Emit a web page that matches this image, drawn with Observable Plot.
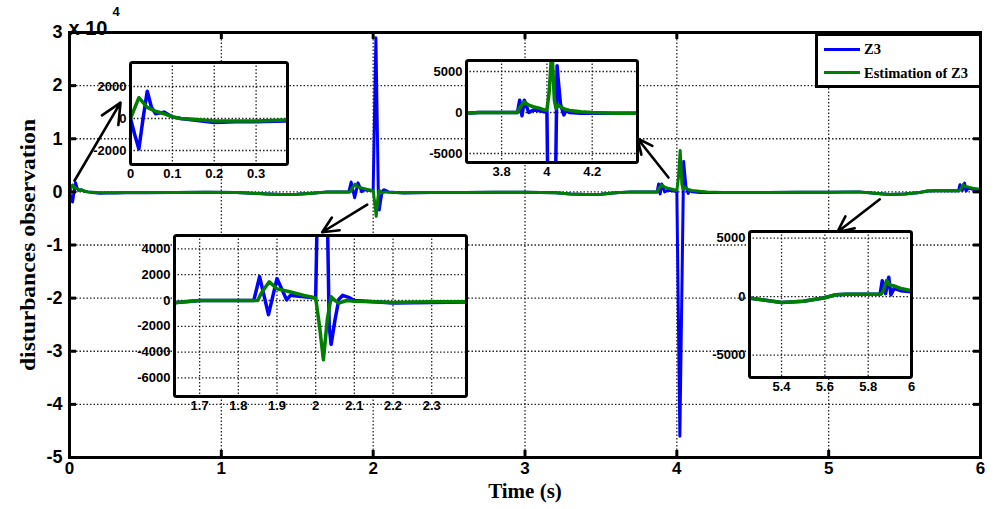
<!DOCTYPE html>
<html><head><meta charset="utf-8">
<script src="https://cdn.jsdelivr.net/npm/d3@7"></script>
<script src="https://cdn.jsdelivr.net/npm/@observablehq/plot@0.6"></script>
<style>
body{margin:0;background:#fff;}
#wrap{position:relative;width:1008px;height:509px;overflow:hidden;background:#fff;}
#wrap svg{position:absolute;}
#legend{position:absolute;left:815px;top:33px;width:161px;height:49px;border:3px solid #000;background:#fff;
  font-family:'Liberation Serif','Times New Roman',serif;font-weight:bold;font-size:14.5px;line-height:1;}
#legend .sw{position:absolute;left:6px;width:36px;height:3px;}
#legend .lb{position:absolute;left:46px;white-space:nowrap;}
</style></head><body><div id="wrap"><div id="legend"></div></div>
<script>
// ---------- data ----------
const seriesNames = ["Z3", "Estimation of Z3"];
const seriesColors = ["#0000ff", "#008000"];

const timeZ3 = [0,0.01,0.02,0.03,0.04,0.05,0.06,0.08,0.1,0.12,
  0.15,0.2,0.25,0.3,0.37,0.5,0.7,0.9,1.1,1.3,
  1.4,1.5,1.6,1.7,1.84,1.855,1.878,1.9,1.925,1.935,
  1.95,1.97,2.0,2.018,2.035,2.04,2.05,2.06,2.07,2.085,
  2.1,2.15,2.2,2.3,2.4,2.6,2.8,3.0,3.2,3.3,
  3.4,3.5,3.6,3.7,3.87,3.88,3.89,3.9,3.92,3.94,
  3.97,3.99,4.0,4.02,4.045,4.05,4.06,4.075,4.085,4.1,
  4.15,4.2,4.3,4.4,4.6,4.8,5.0,5.2,5.3,5.4,
  5.5,5.6,5.65,5.7,5.8,5.855,5.865,5.88,5.895,5.905,
  5.92,5.95,6.0];
const valueZ3 = [0,-1000,-1900,0,1700,700,300,400,100,0,
  -100,-250,-200,-200,-150,-150,-100,-50,-100,-400,
  -500,-450,-250,0,0,1850,-1100,1700,50,400,
  350,300,200,29000,-2000,-3400,-1500,100,400,250,
  0,-100,-200,-150,-100,-100,-50,-50,-150,-400,
  -500,-450,-150,0,0,1500,-400,1500,0,300,
  200,100,200,-46000,5700,4000,1000,-300,300,0,
  -100,-100,-100,-100,-100,-50,-50,0,-250,-500,
  -400,-100,150,200,200,200,1350,250,1650,150,
  700,500,400];

const timeEst = [0,0.02,0.04,0.06,0.08,0.1,0.12,0.15,0.2,0.25,
  0.3,0.37,0.5,0.7,0.9,1.1,1.3,1.4,1.5,1.6,
  1.7,1.85,1.86,1.88,1.9,1.93,1.97,2.0,2.01,2.02,
  2.03,2.04,2.05,2.06,2.08,2.1,2.15,2.2,2.3,2.4,
  2.6,2.8,3.0,3.2,3.3,3.4,3.5,3.6,3.7,3.87,
  3.88,3.9,3.92,3.94,3.97,3.99,4.0,4.01,4.022,4.033,
  4.04,4.05,4.06,4.08,4.1,4.15,4.2,4.3,4.4,4.6,
  4.8,5.0,5.2,5.3,5.4,5.5,5.6,5.65,5.7,5.8,
  5.86,5.87,5.885,5.9,5.92,5.95,6.0];
const valueEst = [0,1300,700,450,300,100,0,-50,-150,-150,
  -150,-100,-100,-100,-50,-100,-400,-500,-450,-250,
  0,0,600,1450,900,700,400,200,-2000,-4600,
  -1500,300,0,-200,0,-50,-100,-150,-100,-100,
  -100,-50,-50,-150,-400,-500,-450,-150,0,0,
  600,1300,900,700,500,300,300,2500,7800,1500,
  500,900,700,400,250,100,0,-100,-100,-100,
  -50,-50,0,-250,-500,-400,-100,150,200,200,
  200,500,1370,1000,900,700,500];

const mainXTicks = [0,1,2,3,4,5,6];
const mainYTicks = [-50000,-40000,-30000,-20000,-10000,0,10000,20000,30000];

// inset settings: tick labels
const insetAx = [0,0.1,0.2,0.3],        insetAy = [-2000,0,2000];
const insetBx = [1.7,1.8,1.9,2,2.1,2.2,2.3], insetBy = [-6000,-4000,-2000,0,2000,4000];
const insetCx = [3.8,4,4.2],            insetCy = [-5000,0,5000];
const insetDx = [5.4,5.6,5.8,6],        insetDy = [-5000,0,5000];

// annotation arrows (main-chart data units): tail -> head
const arrows = [
  {x1:0.033, y1:2100,  x2:0.336, y2:16800},
  {x1:1.961, y1:-2400, x2:1.664, y2:-7600},
  {x1:3.945, y1:2700,  x2:3.741, y2:10050},
  {x1:5.337, y1:-1400, x2:5.056, y2:-7600}
];

// ---------- build tables ----------
const z3 = timeZ3.map((t,i)=>({t, v:valueZ3[i]}));
const est = timeEst.map((t,i)=>({t, v:valueEst[i]}));

const SANS = "'Liberation Sans', Arial, sans-serif";
const SERIF = "'Liberation Serif','Times New Roman',serif";
const wrap = document.getElementById("wrap");
const gridStyle = {stroke:"#000", strokeOpacity:0.85, strokeWidth:1.3, strokeDasharray:"1.5,2"};

// ---------- main chart ----------
const F = {left:69, right:980, top:32, bottom:457};
const fw = F.right-F.left, fh = F.bottom-F.top;
const main = Plot.plot({
  width:1008, height:509,
  marginLeft:F.left, marginRight:1008-F.right, marginTop:F.top, marginBottom:509-F.bottom,
  style:{background:"white", fontFamily:SANS, fontWeight:"bold", color:"black"},
  x:{domain:[0,6]},
  y:{domain:[-50000,30000]},
  marks:[
    Plot.gridX(mainXTicks, gridStyle),
    Plot.gridY(mainYTicks, gridStyle),
    Plot.line(z3, {x:"t", y:"v", stroke:seriesColors[0], strokeWidth:3, clip:true}),
    Plot.line(est, {x:"t", y:"v", stroke:seriesColors[1], strokeWidth:3, clip:true}),
    Plot.tickX(mainXTicks, {x:d=>d, insetTop:fh-7, stroke:"#000", strokeWidth:3}),
    Plot.tickX(mainXTicks, {x:d=>d, insetBottom:fh-7, stroke:"#000", strokeWidth:3}),
    Plot.tickY(mainYTicks, {y:d=>d, insetRight:fw-7, stroke:"#000", strokeWidth:3}),
    Plot.tickY(mainYTicks, {y:d=>d, insetLeft:fw-7, stroke:"#000", strokeWidth:3}),
    Plot.frame({stroke:"#000", strokeWidth:3}),
    Plot.axisX(mainXTicks, {tickSize:0, tickPadding:4, fontSize:17, fontWeight:"bold", fontFamily:SANS, tickFormat:d=>String(d), label:null}),
    Plot.axisY(mainYTicks, {tickSize:0, tickPadding:7, fontSize:18, fontWeight:"bold", fontFamily:SANS, tickFormat:d=>String(d/1e4), label:null}),
    Plot.text(["Time (s)"], {text:d=>d, frameAnchor:"bottom", dy:40, fontFamily:SERIF, fontSize:21, fontWeight:"bold"}),
    Plot.text(["disturbances observation"], {text:d=>d, frameAnchor:"left", textAnchor:"middle", dx:-42, rotate:-90, fontFamily:SERIF, fontSize:22, fontWeight:"bold"}),
    Plot.text(["x 10"], {text:d=>d, frameAnchor:"top-left", textAnchor:"start", dx:-1, dy:-12, fontFamily:SANS, fontSize:20, fontWeight:"bold"}),
    Plot.text(["4"], {text:d=>d, frameAnchor:"top-left", textAnchor:"start", dx:43, dy:-26, fontFamily:SANS, fontSize:13, fontWeight:"bold"}),
    Plot.arrow(arrows, {x1:"x1", y1:"y1", x2:"x2", y2:"y2", stroke:"#000", strokeWidth:2.6, headLength:13, headAngle:50, bend:0})
  ]
});
main.style.left = "0px"; main.style.top = "0px";
wrap.insertBefore(main, wrap.firstChild);
// stretch the rotated axis title to the reference's length
d3.select(main).selectAll("text")
  .filter(function(){ return this.textContent === "disturbances observation"; })
  .attr("textLength", 252).attr("lengthAdjust", "spacingAndGlyphs");

// ---------- insets ----------
function inset(cfg){
  const ml=48, mr=3, mt=3, mb=24;
  const w = cfg.right-cfg.left, h = cfg.bottom-cfg.top;
  const svg = Plot.plot({
    width:w+ml+mr, height:h+mt+mb,
    marginLeft:ml, marginRight:mr, marginTop:mt, marginBottom:mb,
    style:{background:"transparent", fontFamily:SANS, fontWeight:"bold", color:"black", overflow:"visible"},
    x:{domain:cfg.xDomain}, y:{domain:cfg.yDomain},
    marks:[
      Plot.frame({fill:"white"}),
      Plot.gridX(cfg.xTicks, gridStyle),
      Plot.gridY(cfg.yTicks, gridStyle),
      Plot.line(z3, {x:"t", y:"v", stroke:seriesColors[0], strokeWidth:3.5, clip:true}),
      Plot.line(est, {x:"t", y:"v", stroke:seriesColors[1], strokeWidth:3.5, clip:true}),
      Plot.frame({stroke:"#000", strokeWidth:3, rx:2}),
      Plot.axisX(cfg.xTicks, {tickSize:0, tickPadding:4, fontSize:13, fontWeight:"bold", fontFamily:SANS, tickFormat:d=>String(d), label:null}),
      Plot.axisY(cfg.yTicks, {tickSize:0, tickPadding:4, fontSize:13, fontWeight:"bold", fontFamily:SANS, tickFormat:d=>String(d), label:null})
    ]
  });
  svg.style.left = (cfg.left-ml)+"px";
  svg.style.top = (cfg.top-mt)+"px";
  wrap.insertBefore(svg, document.getElementById("legend"));
}
inset({left:130, right:287, top:62, bottom:164, xDomain:[0,0.375], yDomain:[-2875,3500], xTicks:insetAx, yTicks:insetAy});
inset({left:174, right:466, top:235, bottom:396, xDomain:[1.635,2.39], yDomain:[-7440,5040], xTicks:insetBx, yTicks:insetBy});
inset({left:466, right:637, top:60, bottom:162, xDomain:[3.645,4.4], yDomain:[-6100,6340], xTicks:insetCx, yTicks:insetCy});
inset({left:749, right:911, top:231, bottom:377, xDomain:[5.252,6.0], yDomain:[-6920,5560], xTicks:insetDx, yTicks:insetDy});

// ---------- legend ----------
const leg = document.getElementById("legend");
seriesNames.forEach((name,i)=>{
  const sw = document.createElement("div");
  sw.className = "sw"; sw.style.top = (12 + i*22.5)+"px"; sw.style.background = seriesColors[i];
  const lb = document.createElement("div");
  lb.className = "lb"; lb.style.top = (6 + i*24)+"px"; lb.textContent = name;
  leg.appendChild(sw); leg.appendChild(lb);
});
</script></body></html>
